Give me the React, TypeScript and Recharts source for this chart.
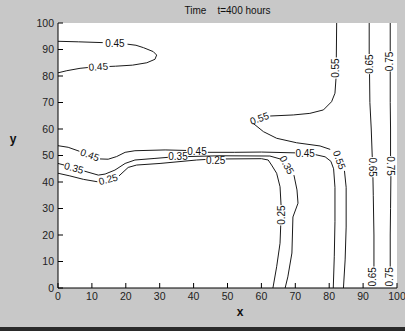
import React from 'react';
import { LineChart, Line, XAxis, YAxis, CartesianGrid, ReferenceDot } from 'recharts';

type Pt = { x: number; y: number | null };

const TICKS = [0, 10, 20, 30, 40, 50, 60, 70, 80, 90, 100];

// contour lines, null = gap where the level label sits
const c45Upper: Pt[] = [
  { x: 0, y: 93.1 }, { x: 6, y: 92.9 }, { x: 13.2, y: 92.6 }, { x: 16, y: null },
  { x: 20.5, y: 92.0 }, { x: 23, y: 91.6 }, { x: 25.2, y: 90.7 }, { x: 28.1, y: 89.2 },
  { x: 29.1, y: 87.9 }, { x: 28.6, y: 86.3 }, { x: 26.2, y: 85 }, { x: 22, y: 84.1 },
  { x: 17, y: 83.7 }, { x: 15.2, y: 83.6 }, { x: 12, y: null },
  { x: 8.8, y: 83.2 }, { x: 6.5, y: 82.9 }, { x: 2.6, y: 82 }, { x: 0, y: 81.2 },
];

const c45Lower: Pt[] = [
  { x: 0, y: 53.7 }, { x: 3, y: 53.1 }, { x: 6.3, y: 51.6 }, { x: 9, y: null },
  { x: 12.4, y: 48.7 }, { x: 14.8, y: 48.6 }, { x: 17.3, y: 49.6 }, { x: 19.8, y: 51.2 },
  { x: 22.7, y: 51.8 }, { x: 31.6, y: 52.1 }, { x: 37.8, y: 51.9 }, { x: 41, y: null },
  { x: 44.2, y: 51.2 }, { x: 52, y: 51.2 }, { x: 60, y: 51.3 }, { x: 69.9, y: 51 }, { x: 73, y: null },
  { x: 76, y: 50.3 }, { x: 78.8, y: 49.5 }, { x: 80.5, y: 47.8 }, { x: 81.3, y: 45 },
  { x: 81.7, y: 38 }, { x: 81.7, y: 25 }, { x: 81.5, y: 12 }, { x: 81.2, y: 0 },
];

const c35: Pt[] = [
  { x: 0, y: 47 }, { x: 1.8, y: 46.4 }, { x: 4, y: null },
  { x: 7.8, y: 44.1 }, { x: 11.9, y: 42.6 }, { x: 13.9, y: 43 }, { x: 16.8, y: 44.5 },
  { x: 19.8, y: 47 }, { x: 22.7, y: 48.3 }, { x: 28.6, y: 48.9 }, { x: 32.4, y: 49.3 }, { x: 35, y: null },
  { x: 38.4, y: 49.6 }, { x: 47.8, y: 49.9 }, { x: 62.5, y: 49.8 }, { x: 65.8, y: 48.6 }, { x: 67, y: null },
  { x: 69.6, y: 42.6 }, { x: 70.5, y: 37 }, { x: 70.8, y: 32 }, { x: 69.3, y: 26.8 },
  { x: 69, y: 13.2 }, { x: 67.8, y: 4.2 }, { x: 67, y: 0 },
];

const c25: Pt[] = [
  { x: 0, y: 43.3 }, { x: 3.5, y: 42.3 }, { x: 7.5, y: 41 }, { x: 11.6, y: 40.1 }, { x: 14, y: null },
  { x: 18, y: 42.3 }, { x: 20.7, y: 45.5 }, { x: 23.2, y: 46.4 }, { x: 30.1, y: 47 },
  { x: 40.9, y: 48.3 }, { x: 43.5, y: 48.5 }, { x: 46, y: null },
  { x: 49.5, y: 48.7 }, { x: 60, y: 48.8 }, { x: 62, y: 48.3 }, { x: 63, y: 46.4 },
  { x: 64.5, y: 43.3 }, { x: 65.5, y: 38.2 }, { x: 65.8, y: 31.3 }, { x: 65.8, y: null },
  { x: 65.7, y: 23.6 }, { x: 65.5, y: 16.9 }, { x: 64.5, y: 8 }, { x: 63.4, y: 0 },
];

const c55: Pt[] = [
  { x: 82.2, y: 100 }, { x: 82.1, y: 87 }, { x: 82, y: null },
  { x: 82, y: 79 }, { x: 81.7, y: 73.5 }, { x: 80.7, y: 70.3 }, { x: 78.3, y: 67.2 },
  { x: 74.3, y: 65.9 }, { x: 69.4, y: 65.3 }, { x: 62.6, y: 64.9 }, { x: 60, y: null },
  { x: 57.6, y: 62.1 }, { x: 60.6, y: 59 }, { x: 64.5, y: 56.5 }, { x: 70.4, y: 54.8 },
  { x: 77.3, y: 53.6 }, { x: 80.3, y: 52.3 }, { x: 83, y: null },
  { x: 84.5, y: 44.2 }, { x: 85, y: 38 }, { x: 85, y: 23 }, { x: 84.7, y: 10.6 }, { x: 84.2, y: 0 },
];

const c65: Pt[] = [
  { x: 91.8, y: 100 }, { x: 91.8, y: 88.3 }, { x: 91.8, y: null },
  { x: 91.9, y: 80.7 }, { x: 92, y: 70 }, { x: 92.4, y: 60 }, { x: 92.7, y: 49.4 }, { x: 92.8, y: null },
  { x: 92.9, y: 41.8 }, { x: 93, y: 35 }, { x: 93.2, y: 20 }, { x: 93.2, y: 8.1 },
];

const c75: Pt[] = [
  { x: 98, y: 100 }, { x: 98, y: 89.3 }, { x: 98, y: null },
  { x: 98, y: 81.7 }, { x: 98, y: 70 }, { x: 98.1, y: 60 }, { x: 98.1, y: 49.8 }, { x: 98.1, y: null },
  { x: 98.2, y: 42.2 }, { x: 98.1, y: 30 }, { x: 98, y: 20 }, { x: 98, y: 8.1 },
];

const CONTOURS = [c45Upper, c45Lower, c35, c25, c55, c65, c75];

// level labels: [x, y, text, angle]
const LEVEL_LABELS: [number, number, string, number][] = [
  [16.8, 92.3, '0.45', 0],
  [11.9, 83.5, '0.45', -3],
  [9.4, 50.2, '0.45', 20],
  [41, 51.4, '0.45', 0],
  [72.9, 50.6, '0.45', 0],
  [4.7, 45.3, '0.35', 15],
  [35.4, 49.6, '0.35', 0],
  [67.5, 46.4, '0.35', 62],
  [14.8, 41, '0.25', -15],
  [46.5, 48, '0.25', 0],
  [65.8, 27.5, '0.25', -90],
  [81.9, 83, '0.55', -90],
  [59.4, 64, '0.55', -20],
  [83, 48.3, '0.55', 70],
  [91.8, 84.5, '0.65', -90],
  [92.8, 45.6, '0.65', 90],
  [92.9, 4.2, '0.65', -90],
  [97.9, 85.5, '0.75', -90],
  [98.1, 46, '0.75', 90],
  [97.9, 4.2, '0.75', -90],
];

const tickStyle = { fontSize: 10.5, fill: '#222', fontFamily: 'Arial, "Liberation Sans", sans-serif' };

const levelLabel = (text: string, angle: number) => (props: any) => (
  <text
    x={props.cx}
    y={props.cy}
    transform={`rotate(${angle} ${props.cx} ${props.cy})`}
    textAnchor="middle"
    dominantBaseline="central"
    fontSize={10}
    fontFamily='Arial, "Liberation Sans", sans-serif'
    fill="#111"
  >
    {text}
  </text>
);

export default function App() {
  return (
    <div style={{ position: 'fixed', left: 0, top: 0, width: 405, height: 331, background: '#c8c8c8', overflow: 'hidden' }}>
      <LineChart width={405} height={331} margin={{ top: 23, right: 8, bottom: 0, left: 0 }}>
        <CartesianGrid fill="#fff" horizontal={false} vertical={false} />
        <XAxis
          xAxisId="b"
          type="number"
          dataKey="x"
          domain={[0, 100]}
          ticks={TICKS}
          interval={0}
          allowDataOverflow
          height={43}
          tickSize={-5}
          tickMargin={10}
          tick={tickStyle}
          stroke="#000"
        />
        <XAxis xAxisId="t" orientation="top" type="number" dataKey="x" domain={[0, 100]} ticks={TICKS}
          interval={0} height={0} tickSize={-5} tick={false} stroke="#000" />
        <YAxis
          yAxisId="l"
          type="number"
          domain={[0, 100]}
          ticks={TICKS}
          interval={0}
          allowDataOverflow
          width={58}
          tickSize={-5}
          tickMargin={9}
          tick={tickStyle}
          stroke="#000"
        />
        <YAxis yAxisId="r" orientation="right" type="number" domain={[0, 100]} ticks={TICKS}
          interval={0} width={0} tickSize={-5} tick={false} stroke="#000" />
        {CONTOURS.map((c, i) => (
          <Line
            key={i}
            xAxisId="b"
            yAxisId="l"
            data={c}
            dataKey="y"
            type="linear"
            stroke="#1a1a1a"
            strokeWidth={1}
            dot={false}
            activeDot={false}
            isAnimationActive={false}
          />
        ))}
        {LEVEL_LABELS.map(([x, y, text, angle], i) => (
          <ReferenceDot key={`lab-${i}`} xAxisId="b" yAxisId="l" x={x} y={y} r={1} shape={levelLabel(text, angle)} />
        ))}
      </LineChart>
      <div style={{ position: 'absolute', left: 58, top: 5, width: 339, textAlign: 'center', fontSize: 10, lineHeight: '12px', fontFamily: 'Arial, "Liberation Sans", sans-serif', color: '#111', whiteSpace: 'pre' }}>
        {'Time    t=400 hours'}
      </div>
      <div style={{ position: 'absolute', left: 8, top: 132, width: 10, textAlign: 'center', fontSize: 12, lineHeight: '14px', fontWeight: 'bold', fontFamily: 'Arial, "Liberation Sans", sans-serif', color: '#111' }}>
        y
      </div>
      <div style={{ position: 'absolute', left: 234, top: 305, width: 12, textAlign: 'center', fontSize: 12, lineHeight: '14px', fontWeight: 'bold', fontFamily: 'Arial, "Liberation Sans", sans-serif', color: '#111' }}>
        x
      </div>
      <div style={{ position: 'absolute', left: 0, bottom: 0, width: 405, height: 4, background: '#2a2a2a' }} />
    </div>
  );
}
